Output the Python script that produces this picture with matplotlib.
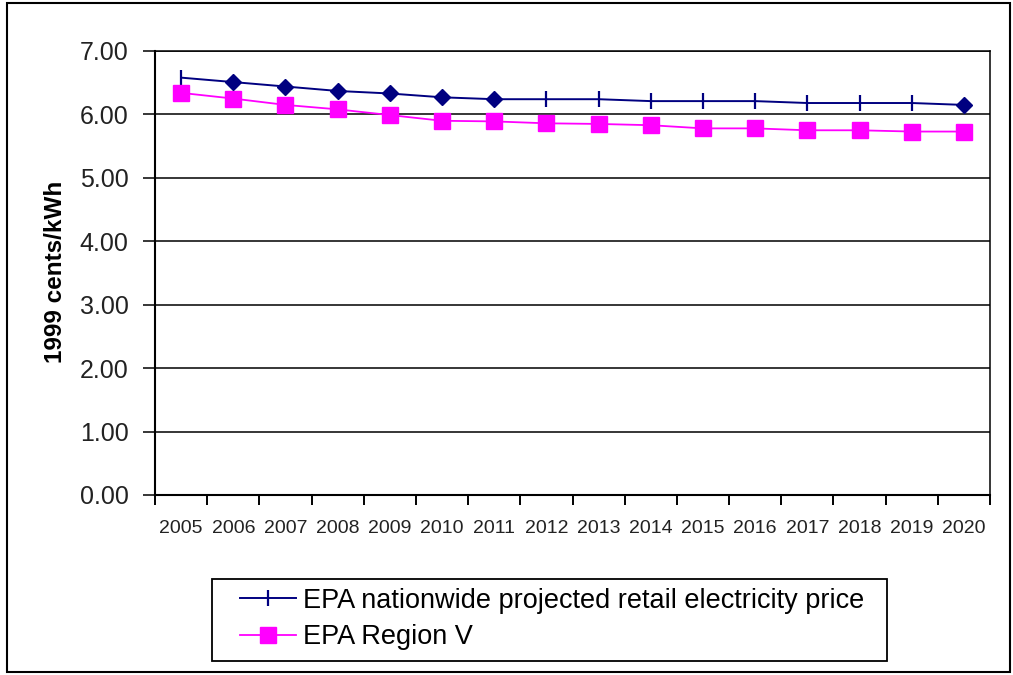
import matplotlib
matplotlib.use("Agg")
import matplotlib.pyplot as plt
import numpy as np

years = [str(y) for y in range(2005, 2021)]
nationwide = [6.58, 6.51, 6.44, 6.37, 6.33, 6.27, 6.24, 6.24, 6.24, 6.21, 6.21, 6.21, 6.18, 6.18, 6.18, 6.15]
region_v = [6.34, 6.25, 6.15, 6.08, 5.99, 5.90, 5.89, 5.86, 5.85, 5.83, 5.78, 5.78, 5.75, 5.75, 5.73, 5.73]
diamond_years = ["2006", "2007", "2008", "2009", "2010", "2011", "2020"]
yticks = [0, 1, 2, 3, 4, 5, 6, 7]

plt.rcParams['font.family'] = ['Liberation Sans', 'DejaVu Sans']

fig = plt.figure(figsize=(10.13, 6.75), dpi=100)
W, H = 1013, 675
ax = fig.add_axes([155 / W, 1 - 495 / H, (990 - 155) / W, (495 - 51) / H])

x = np.arange(len(years))
diamond_idx = [years.index(y) for y in diamond_years]
tick_idx = [i for i in range(len(years)) if i not in diamond_idx]

blue = '#000080'
pink = '#FF00FF'

ax.plot(x, nationwide, color=blue, lw=1.4, marker='|', ms=11, mew=1.6,
        markevery=tick_idx, label='EPA nationwide projected retail electricity price', zorder=3)
ax.plot(x[diamond_idx], np.array(nationwide)[diamond_idx], ls='none', marker='D',
        ms=8.5, color=blue, zorder=4)
ax.plot(x, region_v, color=pink, lw=1.3, marker='s', ms=11, label='EPA Region V', zorder=3)

ax.set_xlim(-0.5, len(years) - 0.5)
ax.set_ylim(0, 7)
ax.set_yticks(yticks)
ax.set_yticklabels([f"{v:.2f}" for v in yticks], fontsize=18, color='#222222')
ax.yaxis.grid(True, color='black', lw=1.1)
ax.set_axisbelow(True)
ax.tick_params(axis='y', direction='out', length=9, width=1.1, pad=10)

ax.set_xticks(x)
ax.set_xticklabels(years, fontsize=14, color='#222222')
ax.tick_params(axis='x', which='major', length=0, pad=18)
ax.set_xticks(np.arange(-0.5, len(years), 1.0), minor=True)
ax.tick_params(axis='x', which='minor', direction='out', length=7, width=1.4)

for s in ax.spines.values():
    s.set_color('black')
    s.set_linewidth(1.1)
ax.spines['bottom'].set_linewidth(1.5)
ax.spines['left'].set_linewidth(1.5)

fig.text(55 / W, 1 - 272 / H, '1999 cents/kWh', rotation=90, fontsize=17.5,
         fontweight='bold', ha='center', va='center')

# legend (frameless) inside a manually drawn box
leg = fig.legend(loc='center left', bbox_to_anchor=(240 / W, 1 - 619 / H),
                 fontsize=19.5, frameon=False,
                 borderpad=0, handlelength=2.07, handletextpad=0.25, labelspacing=0.4,
                 borderaxespad=0)
fig.patches.append(plt.Rectangle((212 / W, 1 - 661 / H), (887 - 212) / W, (661 - 579) / H,
                                 transform=fig.transFigure, fill=False, ec='black', lw=1.3))

# outer border
fig.patches.append(plt.Rectangle((7 / W, 1 - 672 / H), (1010 - 7) / W, (672 - 3) / H,
                                 transform=fig.transFigure, fill=False, ec='black', lw=1.5))

fig.savefig('out.png', dpi=100)
